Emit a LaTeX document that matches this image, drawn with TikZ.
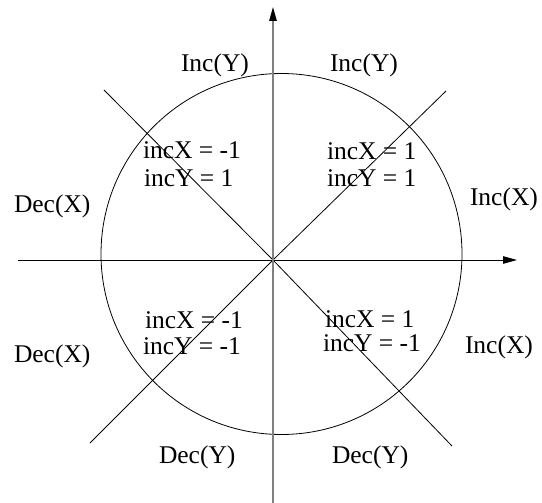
\documentclass[tikz,border=0pt]{standalone}
\usepackage{fontspec}
\setmainfont{Liberation Serif}
\usetikzlibrary{arrows.meta}
\begin{document}
\begin{tikzpicture}[x=1pt,y=-1pt,
  lbl/.style={anchor=base west,inner sep=0pt,outer sep=0pt,font=\fontsize{25.5}{27}\selectfont},
  thin line/.style={line width=0.8pt,black},
  axis/.style={line width=0.9pt,-{Triangle[length=14pt,width=7.5pt,color=black]}}]
\useasboundingbox (0,0) rectangle (542,503);
% coordinates
\coordinate (O) at (273,260);
\coordinate (xl) at (18,260);
\coordinate (xr) at (517,260);
\coordinate (yb) at (273,503);
\coordinate (yt) at (273,7);
\coordinate (tl) at (104,90);
\coordinate (tr) at (446,91);
\coordinate (bl) at (90,443);
\coordinate (br) at (452,446);
% circle
\draw[thin line] (281.5,254) circle (180.5);
% diagonals
\draw[thin line] (tl) -- (O) -- (br);
\draw[thin line] (tr) -- (O) -- (bl);
% axes
\draw[axis,black] (xl) -- (xr);
\draw[axis,black!50,line width=1.3pt] (yb) -- (yt);
% labels
\node[lbl] (iy1) at (181,72) {Inc(Y)};
\node[lbl] (iy2) at (330,72) {Inc(Y)};
\node[lbl] (dy1) at (159,463) {Dec(Y)};
\node[lbl] (dy2) at (332,463) {Dec(Y)};
\node[lbl] (dx1) at (14,212) {Dec(X)};
\node[lbl] (dx2) at (14,362) {Dec(X)};
\node[lbl] (ix1) at (470,205) {Inc(X)};
\node[lbl] (ix2) at (465,353) {Inc(X)};
\node[lbl] (q1a) at (143,159) {incX = -1};
\node[lbl] (q1b) at (144,186) {incY = 1};
\node[lbl] (q2a) at (327,160) {incX = 1};
\node[lbl] (q2b) at (327,186) {incY = 1};
\node[lbl] (q3a) at (145,328) {incX = -1};
\node[lbl] (q3b) at (143,354) {incY = -1};
\node[lbl] (q4a) at (325,327) {incX = 1};
\node[lbl] (q4b) at (323,351) {incY = -1};
\end{tikzpicture}
\end{document}
